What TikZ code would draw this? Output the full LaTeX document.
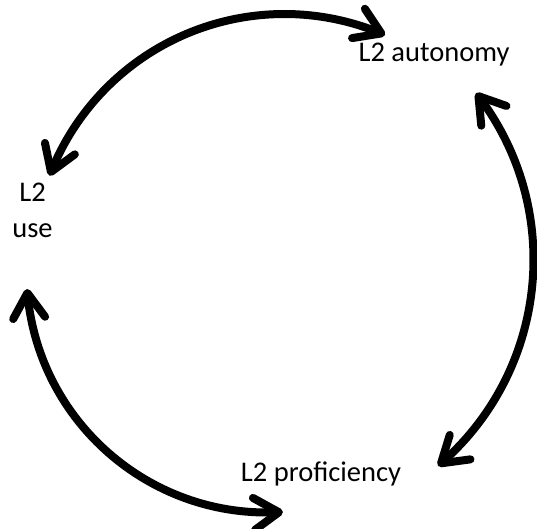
\documentclass[tikz,border=0pt]{standalone}
\usepackage{fontspec}
\setmainfont{Carlito}
\usetikzlibrary{arrows.meta,bending}
\begin{document}
\begin{tikzpicture}[x=1pt,y=1pt,
  conn/.style={line width=8pt,{Straight Barb[round,length=25pt,width=32pt]}-{Straight Barb[round,length=25pt,width=32pt]}},
  lbl/.style={font=\fontsize{28.5}{36}\selectfont, inner sep=0pt, align=center}]
\useasboundingbox (0,0) rectangle (537,528);
\node[lbl, anchor=base] (auto) at (434,466) {L2 autonomy};
\node[lbl, anchor=base] (prof) at (321,47) {L2 proficiency};
\node[lbl, anchor=base] (use) at (32.5,291) {L2\\use};
\coordinate (c1) at (284.4,262.6);
\coordinate (c2) at (263.1,268.3);
\coordinate (c3) at (267,256);
\coordinate (t1) at ([shift={(159.1:251.4)}]c1);
\coordinate (t2) at ([shift={(38.06:270.4)}]c2);
\coordinate (t3) at ([shift={(184.05:240.5)}]c3);
\draw[conn] (t1) arc[start angle=159.1, end angle=66.4, radius=251.4];
\draw[conn] (t2) arc[start angle=38.06, end angle=-49.7, radius=270.4];
\draw[conn] (t3) arc[start angle=184.05, end angle=273.8, radius=240.5];
\end{tikzpicture}
\end{document}
